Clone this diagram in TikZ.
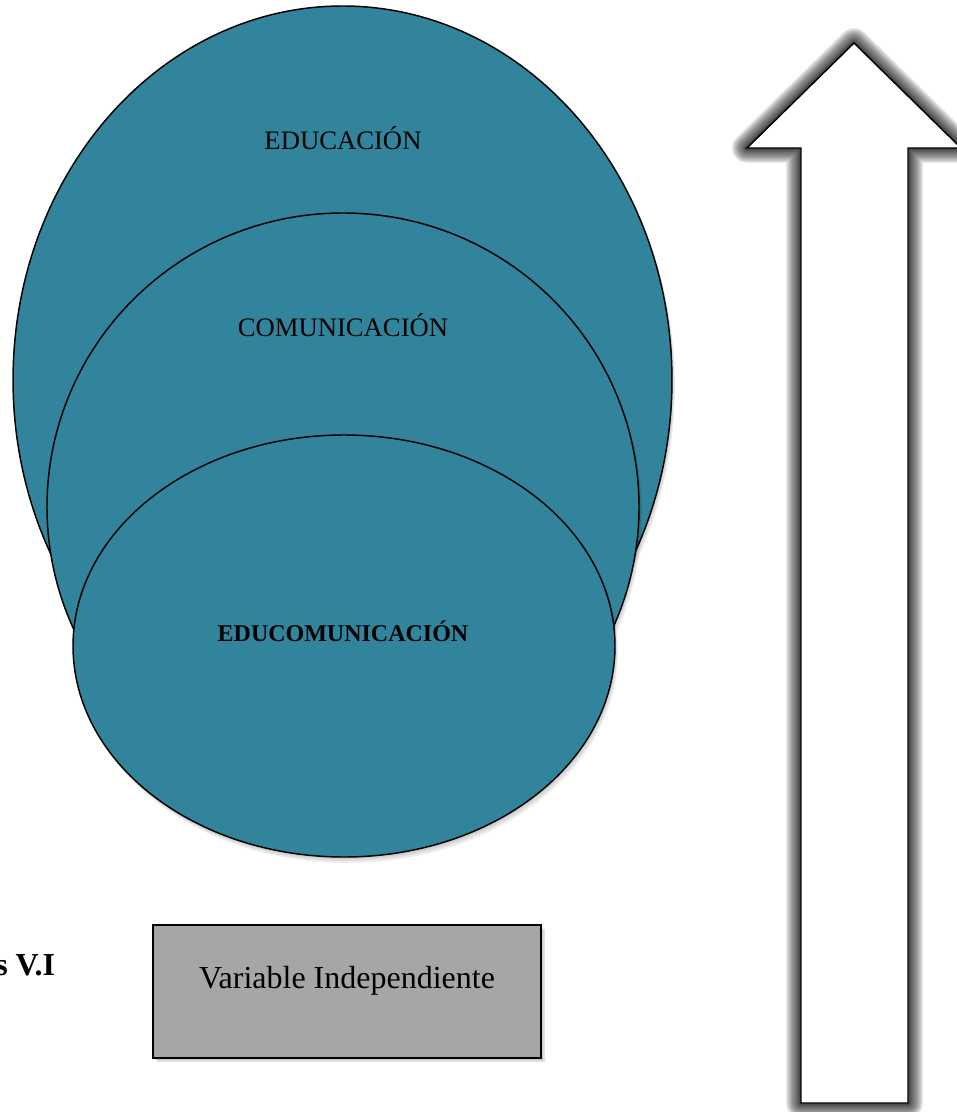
\documentclass[tikz,border=0pt]{standalone}
\usepackage{fontspec}
\setmainfont{Liberation Serif}
\definecolor{ellfill}{HTML}{31849B}
\definecolor{boxfill}{HTML}{A6A6A6}
\tikzset{
  ell/.style={fill=ellfill, draw=black, line width=1.1pt},
  ellshadow/.style={fill=black, opacity=0.07},
  lbl/.style={anchor=base, inner sep=0pt, font=\fontsize{20}{24}\selectfont},
  lblbold/.style={anchor=base, inner sep=0pt, font=\bfseries\fontsize{18}{22}\selectfont},
  vibox/.style={draw=black, line width=1.1pt, fill=boxfill, minimum width=291pt, minimum height=99.75pt, inner sep=0pt},
  glow/.style={draw=black, opacity=0.14, line join=round},
  arrowshape/.style={fill=white, draw=black, line width=1.1pt, line join=miter}
}
\begin{document}
\begin{tikzpicture}[x=0.75pt,y=-0.75pt]
\useasboundingbox (0,0) rectangle (956,1112);
% outer ellipse
\foreach \d in {2,4,6}{\path[ellshadow] (342.5+\d*0.5,380+\d) ellipse [x radius=247.1pt, y radius=280.5pt];}
\path[ell] (342.5,380) ellipse [x radius=247.1pt, y radius=280.5pt];
% middle ellipse
\foreach \d in {2,4,6}{\path[ellshadow] (343+\d*0.5,507+\d) ellipse [x radius=222pt, y radius=220.5pt];}
\path[ell] (343,507) ellipse [x radius=222pt, y radius=220.5pt];
% inner ellipse
\foreach \d in {2,4,6}{\path[ellshadow] (344+\d*0.5,646+\d) ellipse [x radius=203.25pt, y radius=158.25pt];}
\path[ell] (344,646) ellipse [x radius=203.25pt, y radius=158.25pt];
\node[lbl] (educ) at (343,150) {EDUCACIÓN};
\node[lbl] (comu) at (343,336) {COMUNICACIÓN};
\node[lblbold] (educom) at (343,641) {EDUCOMUNICACIÓN};
% box
\foreach \d in {2,4}{\path[fill=black, opacity=0.12] (153+\d,925+\d) rectangle (541+\d,1058+\d);}
\node[vibox] (vi) at (347,991.5) {};
\node[anchor=base, inner sep=0pt, font=\fontsize{24}{28}\selectfont] (vitext) at (347,988) {Variable Independiente};
\node[anchor=base west, inner sep=0pt, font=\bfseries\fontsize{24}{28}\selectfont] (svi) at (-5,975) {s V.I};
% arrow
\def\arrowpath{(854,43) -- (961,148) -- (908,148) -- (908,1103) -- (801,1103) -- (801,148) -- (747,148) -- cycle}
\foreach \w in {22,19,16,13,10,7,5,3}{\draw[glow, line width=\w pt] \arrowpath;}
\path[arrowshape] \arrowpath;
\end{tikzpicture}
\end{document}
